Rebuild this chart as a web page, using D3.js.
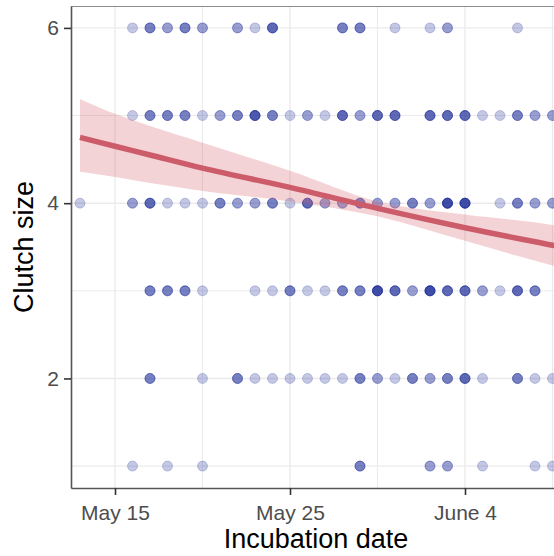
<!DOCTYPE html>
<html>
  <head>
    <style>
      body { margin: 0; background: #fff; }
      svg { display: block; font-family: "Liberation Sans", Arial, sans-serif; }
      .tick text { fill: #4d4d4d; }
    </style>
  </head>
  <body>
  <script src="https://cdnjs.cloudflare.com/ajax/libs/d3/7.8.5/d3.min.js"></script>
  <script>
    // days are counted from May 1 (so 32 = June 1); each pair is [day, nests]
    var size6 = [[16,1],[17,3],[18,2],[19,3],[20,2],[22,2],[23,1],[24,4],[28,3],[29,3],[31,1],[33,1],[34,2],[38,1]];
    var size5 = [[16,1],[17,3],[18,3],[19,3],[20,1],[21,2],[22,3],[23,5],[24,3],[25,1],[26,2],[27,1],[28,4],[29,2],[30,4],[31,4],[33,4],[34,4],[35,4],[36,1],[37,1],[38,3],[39,2],[40,2]];
    var size4 = [[13,1],[16,2],[17,4],[18,1],[19,1],[20,1],[21,3],[22,2],[23,2],[24,3],[25,1],[26,4],[27,2],[28,2],[29,3],[30,2],[31,2],[32,3],[33,2],[34,6],[35,6],[37,1],[38,3],[39,2],[40,2]];
    var size3 = [[17,3],[18,3],[19,3],[20,1],[23,1],[24,1],[25,3],[26,1],[27,1],[28,3],[29,3],[30,6],[31,4],[32,2],[33,6],[34,4],[35,4],[36,2],[37,1],[38,4],[39,3]];
    var size2 = [[17,3],[20,1],[22,3],[23,1],[24,1],[25,1],[26,1],[27,1],[28,1],[29,3],[30,2],[31,1],[32,3],[33,2],[34,3],[35,4],[36,1],[38,3],[39,1],[40,1]];
    var size1 = [[16,1],[18,1],[20,1],[29,3],[33,2],[34,2],[36,1],[39,1],[40,1]];

    // fitted trend
    var fitDay  = [13, 15, 17, 20, 25, 30, 35, 40, 41];
    var fitMean = [4.75, 4.65, 4.55, 4.40, 4.18, 3.94, 3.72, 3.52, 3.48];
    var fitLow  = [4.36, 4.30, 4.23, 4.14, 4.02, 3.85, 3.57, 3.29, 3.24];
    var fitHigh = [5.19, 5.02, 4.88, 4.69, 4.37, 4.02, 3.87, 3.75, 3.71];

    var xMajor = [15, 25, 35], xMinor = [20, 30, 40];
    var yMajor = [2, 4, 6], yMinor = [1, 3, 5];

    function mayDay(n) { return new Date(Date.UTC(2019, 4, 1) + (n - 1) * 864e5); }

    var width = 554, height = 556;
    var margin = {top: 6, right: -7, bottom: 68, left: 71};

    var svg = d3.select("body").append("svg")
      .attr("width", width)
      .attr("height", height);

    var x = d3.scaleUtc()
      .domain([mayDay(12.486), mayDay(40.486)])
      .range([margin.left, width - margin.right]);
    var y = d3.scaleLinear()
      .domain([0.75, 6.25])
      .range([height - margin.bottom, margin.top]);

    svg.append("clipPath").attr("id", "panel")
      .append("rect")
      .attr("x", margin.left).attr("y", margin.top)
      .attr("width", x.range()[1] - margin.left)
      .attr("height", y.range()[0] - margin.top);

    var grid = svg.append("g").attr("stroke", "#ebebeb");
    grid.selectAll(".vx").data(xMajor.concat(xMinor)).enter().append("line")
      .attr("x1", function(d) { return x(mayDay(d)); })
      .attr("x2", function(d) { return x(mayDay(d)); })
      .attr("y1", y.range()[1]).attr("y2", y.range()[0])
      .attr("stroke-width", function(d) { return xMajor.indexOf(d) >= 0 ? 1.4 : 1.1; });
    grid.selectAll(".hy").data(yMajor.concat(yMinor)).enter().append("line")
      .attr("y1", function(d) { return y(d); })
      .attr("y2", function(d) { return y(d); })
      .attr("x1", x.range()[0]).attr("x2", x.range()[1])
      .attr("stroke-width", function(d) { return yMajor.indexOf(d) >= 0 ? 1.4 : 1.1; });

    var rows = [[6, size6], [5, size5], [4, size4], [3, size3], [2, size2], [1, size1]];
    var points = [];
    rows.forEach(function(r) {
      r[1].forEach(function(p) {
        for (var i = 0; i < p[1]; i++) points.push({day: p[0], size: r[0]});
      });
    });

    var plot = svg.append("g").attr("clip-path", "url(#panel)");

    plot.append("g").selectAll("circle")
      .data(points)
      .enter()
      .append("circle")
      .attr("cx", function(d) { return x(mayDay(d.day)); })
      .attr("cy", function(d) { return y(d.size); })
      .attr("r", 5)
      .attr("fill", "#1a2b96")
      .attr("fill-opacity", 0.26)
      .attr("stroke", "#1a2b96")
      .attr("stroke-opacity", 0.22)
      .attr("stroke-width", 1);

    var fit = fitDay.map(function(d, i) {
      return {day: d, mean: fitMean[i], low: fitLow[i], high: fitHigh[i]};
    });

    plot.append("path")
      .datum(fit)
      .attr("fill", "#d9606e")
      .attr("fill-opacity", 0.28)
      .attr("d", d3.area()
        .curve(d3.curveMonotoneX)
        .x(function(d) { return x(mayDay(d.day)); })
        .y0(function(d) { return y(d.low); })
        .y1(function(d) { return y(d.high); }));

    plot.append("path")
      .datum(fit)
      .attr("fill", "none")
      .attr("stroke", "#cc5c69")
      .attr("stroke-width", 5.5)
      .attr("d", d3.line()
        .curve(d3.curveMonotoneX)
        .x(function(d) { return x(mayDay(d.day)); })
        .y(function(d) { return y(d.mean); }));

    // panel border (top) and axis lines
    svg.append("line")
      .attr("x1", margin.left).attr("x2", width)
      .attr("y1", margin.top + 0.5).attr("y2", margin.top + 0.5)
      .attr("stroke", "#8c8c8c").attr("stroke-width", 1.2);

    var fmt = d3.utcFormat("%B %-d");
    var xAxis = svg.append("g")
      .attr("transform", "translate(0," + y.range()[0] + ")")
      .call(d3.axisBottom(x).tickValues(xMajor.map(mayDay)).tickFormat(fmt).tickSize(7).tickSizeOuter(0));
    var yAxis = svg.append("g")
      .attr("transform", "translate(" + margin.left + ",0)")
      .call(d3.axisLeft(y).tickValues(yMajor).tickFormat(d3.format("d")).tickSize(7).tickSizeOuter(0));

    [xAxis, yAxis].forEach(function(a) {
      a.select(".domain").attr("stroke", "#555").attr("stroke-width", 1.6);
      a.selectAll(".tick line").attr("stroke", "#333").attr("stroke-width", 1.6);
      a.selectAll(".tick text").attr("font-size", 21).attr("font-family", "Liberation Sans, Arial, sans-serif");
    });
    xAxis.selectAll(".tick text").attr("dy", "1.05em");
    yAxis.selectAll(".tick text").attr("dx", "-0.1em");

    svg.append("text")
      .attr("x", (margin.left + x.range()[1]) / 2)
      .attr("y", 548)
      .attr("text-anchor", "middle")
      .attr("font-size", 27)
      .attr("fill", "#000")
      .text("Incubation date");

    svg.append("text")
      .attr("transform", "translate(33," + (margin.top + y.range()[0]) / 2 + ") rotate(-90)")
      .attr("text-anchor", "middle")
      .attr("font-size", 27)
      .attr("fill", "#000")
      .text("Clutch size");
  </script>
  </body>
</html>
